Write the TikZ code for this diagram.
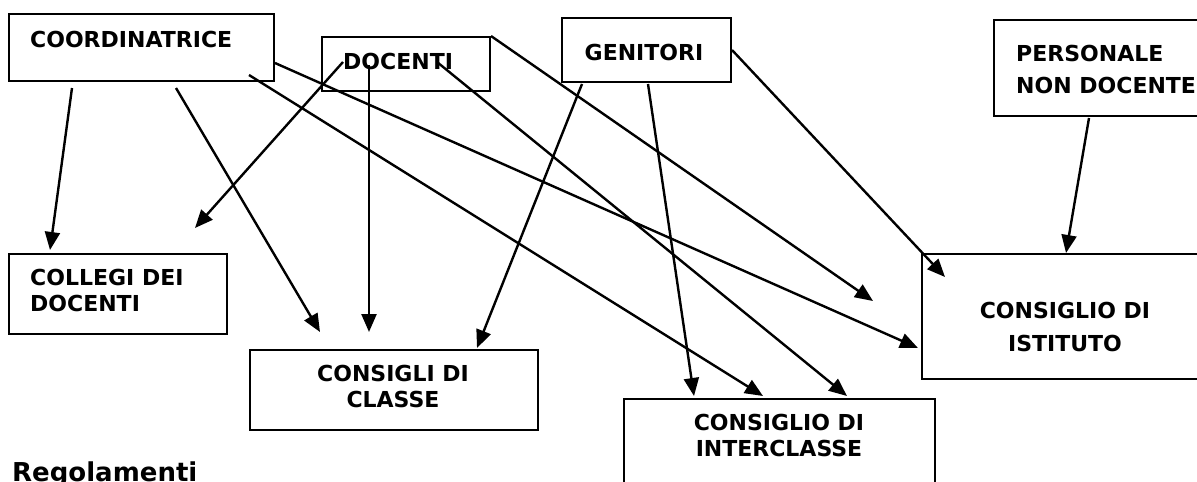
\documentclass[tikz,border=0pt]{standalone}
\usepackage{fontspec}
\setmainfont{DejaVu Sans}
\usetikzlibrary{arrows.meta}

\begin{document}
\begin{tikzpicture}[x=1pt, y=-1pt,
    box/.style={draw, line width=2pt, inner sep=0pt, anchor=north west},
    lbl/.style={font=\bfseries\fontsize{22}{#1}\selectfont, inner sep=0pt},
    lbl/.default=26,
    arr/.style={-{Triangle[length=18pt, width=15pt]}, line width=2.4pt}]

    \useasboundingbox (0,0) rectangle (1197,482);
    \clip (0,0) rectangle (1197,482);

    % boxes
    \node[box, minimum width=265pt, minimum height=67pt] (coord) at (8,13) {};
    \node[box, minimum width=168pt, minimum height=54pt] (doc) at (321,36) {};
    \node[box, minimum width=169pt, minimum height=64pt] (gen) at (561,17) {};
    \node[box, minimum width=215pt, minimum height=96pt] (pers) at (993,19) {};
    \node[box, minimum width=218pt, minimum height=80pt] (colleg) at (8,253) {};
    \node[box, minimum width=288pt, minimum height=80pt] (classe) at (249,349) {};
    \node[box, minimum width=311pt, minimum height=110pt] (inter) at (623,398) {};
    \node[box, minimum width=290pt, minimum height=125pt] (istit) at (921,253) {};

    % texts (base = last line)
    \node[lbl, anchor=base west] (coordT) at (30,47) {COORDINATRICE};
    \node[lbl, anchor=base west] (docT) at (343,69) {DOCENTI};
    \node[lbl, anchor=base] (genT) at (644,60) {GENITORI};
    \node[lbl=32, anchor=base west, align=left] (persT) at (1016,93) {PERSONALE\\NON DOCENTE};
    \node[lbl, anchor=base west, align=left] (collegT) at (30,311) {COLLEGI DEI\\DOCENTI};
    \node[lbl, anchor=base, align=center] (classeT) at (393,407) {CONSIGLI DI\\CLASSE};
    \node[lbl, anchor=base, align=center] (interT) at (779,456) {CONSIGLIO DI\\INTERCLASSE};
    \node[lbl=33, anchor=base, align=center] (istitT) at (1065,351) {CONSIGLIO DI\\ISTITUTO};
    \node[font=\bfseries\fontsize{26}{30}\selectfont, inner sep=0pt, anchor=base west] (regol) at (12,481) {Regolamenti};

    % arrow starts
    \coordinate (a1) at ([shift={(64,6)}]coord.south west);
    \coordinate (a2) at ([shift={(168,6)}]coord.south west);
    \coordinate (a3) at ([shift={(241,-7)}]coord.south west);
    \coordinate (a4) at ([shift={(0,-19)}]coord.south east);
    \coordinate (a5) at ([shift={(22,26)}]doc.north west);
    \coordinate (a6) at ([shift={(48,29)}]doc.north west);
    \coordinate (a7) at ([shift={(116,26)}]doc.north west);
    \coordinate (a8) at (doc.north east);
    \coordinate (a9) at ([shift={(21,1)}]gen.south west);
    \coordinate (a10) at ([shift={(87,1)}]gen.south west);
    \coordinate (a11) at (gen.east);
    \coordinate (a12) at ([shift={(96,1)}]pers.south west);

    % arrow ends
    \coordinate (b1) at ([shift={(42,-3)}]colleg.north west);
    \coordinate (b2) at ([shift={(71,-17)}]classe.north west);
    \coordinate (b3) at ([shift={(140,-2)}]inter.north west);
    \coordinate (b4) at ([shift={(-3,95)}]istit.north west);
    \coordinate (b5) at ([shift={(-33,-25)}]colleg.north east);
    \coordinate (b6) at ([shift={(120,-17)}]classe.north west);
    \coordinate (b7) at ([shift={(224,-2)}]inter.north west);
    \coordinate (b8) at ([shift={(-48,48)}]istit.north west);
    \coordinate (b9) at ([shift={(228,-1)}]classe.north west);
    \coordinate (b10) at ([shift={(71,-2)}]inter.north west);
    \coordinate (b11) at ([shift={(24,24)}]istit.north west);
    \coordinate (b12) at ([shift={(145,0)}]istit.north west);

    \foreach \i in {1,...,12} {
        \draw[arr] (a\i) -- (b\i);
    }

\end{tikzpicture}
\end{document}
